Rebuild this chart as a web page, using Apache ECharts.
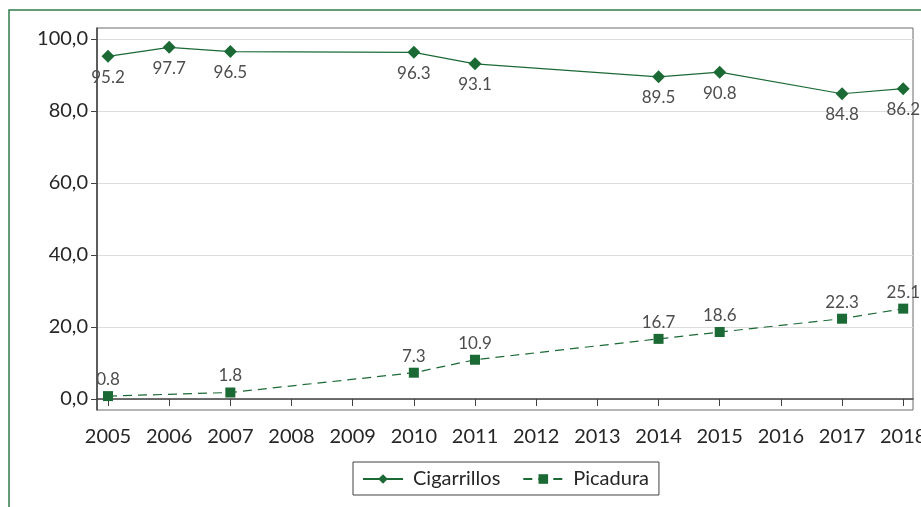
<!DOCTYPE html>
<html>
<head>
<meta charset="utf-8">
<script src="https://cdn.jsdelivr.net/npm/echarts@6/dist/echarts.min.js"></script>
<style>
  html, body { margin: 0; padding: 0; background: #fff; }
  #chart { width: 921px; height: 507px; }
</style>
</head>
<body>
<div id="chart"></div>
<script>
// Years shown on the horizontal axis
const yearTicks = [2005, 2006, 2007, 2008, 2009, 2010, 2011, 2012, 2013, 2014, 2015, 2016, 2017, 2018];
// Percentage ticks on the vertical axis
const valueTicks = [0, 20, 40, 60, 80, 100];

// Survey years and values for each product
const cigarrillosYears = [2005, 2006, 2007, 2010, 2011, 2014, 2015, 2017, 2018];
const cigarrillosValues = [95.2, 97.7, 96.5, 96.3, 93.1, 89.5, 90.8, 84.8, 86.2];

const picaduraYears = [2005, 2007, 2010, 2011, 2014, 2015, 2017, 2018];
const picaduraValues = [0.8, 1.8, 7.3, 10.9, 16.7, 18.6, 22.3, 25.1];

const pairs = (xs, ys) => xs.map((x, i) => [x, ys[i]]);

const GREEN = '#1b6a35';
const FONT = 'Lato, "Open Sans", sans-serif';

const chart = echarts.init(document.getElementById('chart'), null, { renderer: 'canvas' });

chart.setOption({
  animation: false,
  backgroundColor: '#fff',
  graphic: [{
    type: 'rect',
    silent: true,
    shape: { x: 9, y: 10, width: 1000, height: 600 },
    style: { fill: 'none', stroke: '#2f7d4b', lineWidth: 1.5 }
  }],
  grid: {
    left: 97, right: 8, top: 28, bottom: 97,
    outerBoundsMode: 'none',
    containLabel: false,
    show: true, borderColor: '#6b6b6b', borderWidth: 1, backgroundColor: 'transparent'
  },
  legend: {
    left: 353, top: 462,
    padding: [7, 10, 6, 9],
    itemGap: 22,
    itemWidth: 40, itemHeight: 12,
    borderColor: '#404040', borderWidth: 1,
    textStyle: { fontFamily: FONT, fontSize: 20, color: '#262626', padding: [0, 0, 0, 5] },
    data: ['Cigarrillos', 'Picadura']
  },
  xAxis: {
    type: 'value',
    min: 2004.82, max: 2018.16,
    axisLine: { show: true, lineStyle: { color: '#404040', width: 1.5 } },
    axisTick: { show: true, length: 7, customValues: yearTicks, lineStyle: { color: '#404040' } },
    axisLabel: {
      customValues: yearTicks,
      margin: 17,
      fontFamily: FONT, fontSize: 20, color: '#262626',
      formatter: v => String(Math.round(v))
    },
    splitLine: { show: false }
  },
  yAxis: {
    type: 'value',
    min: -3.06, max: 103.06,
    axisLine: { show: true, lineStyle: { color: '#404040', width: 1.5 } },
    axisTick: { show: true, length: 6, customValues: valueTicks, lineStyle: { color: '#404040' } },
    axisLabel: {
      customValues: valueTicks,
      margin: 9,
      fontFamily: FONT, fontSize: 20, color: '#262626',
      formatter: v => v.toFixed(1).replace('.', ',')
    },
    splitLine: { show: true, lineStyle: { color: '#dcdcdc', width: 1 } }
  },
  series: [
    {
      name: 'Cigarrillos',
      type: 'line',
      data: pairs(cigarrillosYears, cigarrillosValues),
      symbol: 'diamond',
      symbolSize: 13,
      itemStyle: { color: GREEN },
      lineStyle: { color: GREEN, width: 1.2 },
      label: {
        show: true, position: 'bottom', distance: 6,
        fontFamily: FONT, fontSize: 17, color: '#4d4d4d',
        formatter: p => p.value[1].toFixed(1)
      }
    },
    {
      name: 'Picadura',
      type: 'line',
      data: pairs(picaduraYears, picaduraValues),
      symbol: 'rect',
      symbolSize: 10,
      itemStyle: { color: GREEN },
      lineStyle: { color: GREEN, width: 1.2, type: [9, 6] },
      label: {
        show: true, position: 'top', distance: 3,
        fontFamily: FONT, fontSize: 17, color: '#4d4d4d',
        formatter: p => p.value[1].toFixed(1)
      }
    }
  ]
});
</script>
</body>
</html>
